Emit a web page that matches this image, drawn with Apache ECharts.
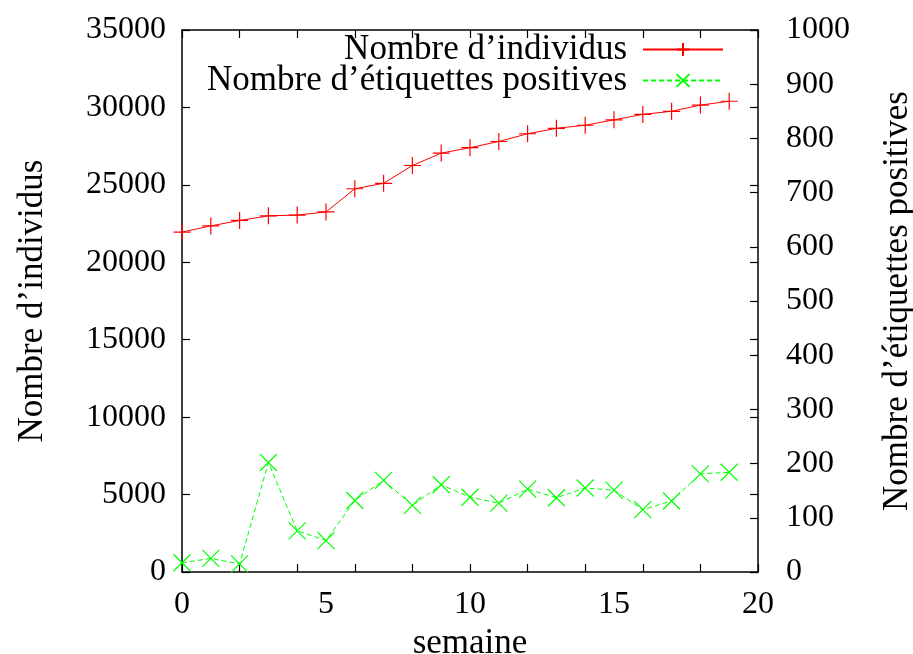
<!DOCTYPE html>
<html><head><meta charset="utf-8">
<script src="https://cdn.jsdelivr.net/npm/echarts@6/dist/echarts.min.js"></script>
<style>html,body{margin:0;padding:0;background:#fff}#c{width:913px;height:654px}</style>
</head><body><div id="c"></div>
<script>
const weeks = [0,1,2,3,4,5,6,7,8,9,10,11,12,13,14,15,16,17,18,19];
const individus = [21950,22350,22700,23000,23050,23250,24750,25100,26250,27050,27400,27800,28300,28650,28850,29200,29550,29750,30150,30400];
const etiquettes = [17,25,15,202,76,58,132,169,123,161,138,127,153,137,155,151,115,131,181,184];
const seriesNames = ['Nombre d\u2019individus', 'Nombre d\u2019\u00e9tiquettes positives'];
const xName = 'semaine';
const yLeftName = 'Nombre d\u2019individus';
const yRightName = 'Nombre d\u2019\u00e9tiquettes positives';

const FONT = 'Liberation Serif';
const num = {fontFamily: FONT, fontSize: 32, color: '#000'};
const txt = {fontFamily: FONT, fontSize: 35, color: '#000'};
const plus = 'path://M0,5L10,5M5,0L5,10';
const cross = 'path://M0,0L10,10M0,10L10,0';
const lineBlack = {show: true, onZero: false, lineStyle: {color: '#000', width: 1.5}};
const noLine = {show: false, onZero: false};
const tickIn = {show: true, inside: true, length: 8, lineStyle: {color: '#000', width: 1.2}};
const plain = v => String(v);
const G = {left: 182, right: 155, top: 30, bottom: 82, containLabel: false, outerBoundsMode: 'none'};

const chart = echarts.init(document.getElementById('c'), null, {renderer: 'canvas'});
chart.setOption({
  animation: false,
  backgroundColor: '#fff',
  textStyle: {fontFamily: FONT},
  grid: [Object.assign({}, G), Object.assign({}, G)],
  legend: [
    {data: [seriesNames[0]], right: 184, top: 27, orient: 'vertical', align: 'right', itemWidth: 80, itemHeight: 16,
     textStyle: Object.assign({padding: [0, 11, 0, 0]}, txt), selectedMode: false},
    {data: [seriesNames[1]], right: 184, top: 58, orient: 'vertical', align: 'right', itemWidth: 80, itemHeight: 16,
     textStyle: Object.assign({padding: [0, 11, 0, 0]}, txt), selectedMode: false}
  ],
  xAxis: [
    {gridIndex: 0, type: 'value', position: 'bottom', min: 0, max: 20, interval: 5,
     axisLine: lineBlack, axisTick: {show: false}, splitLine: {show: false},
     axisLabel: Object.assign({margin: 17, formatter: plain}, num),
     name: xName, nameLocation: 'middle', nameGap: 53, nameTextStyle: txt},
    {gridIndex: 0, type: 'value', position: 'top', min: 0, max: 20, interval: 2,
     axisLine: lineBlack, axisTick: tickIn, axisLabel: {show: false}, splitLine: {show: false}},
    {gridIndex: 1, type: 'value', position: 'bottom', min: 0, max: 20, interval: 2,
     axisLine: noLine, axisTick: tickIn, axisLabel: {show: false}, splitLine: {show: false}}
  ],
  yAxis: [
    {gridIndex: 0, type: 'value', position: 'left', min: 0, max: 35000, interval: 5000,
     axisLine: lineBlack, axisTick: tickIn,
     splitLine: {show: false}, axisLabel: Object.assign({margin: 16, formatter: plain}, num),
     name: yLeftName, nameLocation: 'middle', nameRotate: 90, nameGap: 132, nameTextStyle: txt},
    {gridIndex: 0, type: 'value', position: 'right', min: 0, max: 1000, interval: 100,
     axisLine: lineBlack, axisTick: tickIn,
     splitLine: {show: false}, axisLabel: Object.assign({margin: 28, formatter: plain}, num),
     name: yRightName, nameLocation: 'middle', nameRotate: 90, nameGap: 122, nameTextStyle: txt},
    {gridIndex: 1, type: 'value', position: 'right', min: 0, max: 35000, interval: 5000,
     axisLine: noLine, axisTick: tickIn, splitLine: {show: false}, axisLabel: {show: false}}
  ],
  series: [
    {name: seriesNames[0], type: 'line', xAxisIndex: 0, yAxisIndex: 0,
     data: weeks.map((w, i) => [w, individus[i]]),
     symbol: plus, symbolSize: 17, showAllSymbol: true,
     lineStyle: {color: '#ff0000', width: 1},
     itemStyle: {color: 'none', borderColor: '#ff0000', borderWidth: 1.2}},
    {name: seriesNames[1], type: 'line', xAxisIndex: 0, yAxisIndex: 1,
     data: weeks.map((w, i) => [w, etiquettes[i]]),
     symbol: cross, symbolSize: 17, showAllSymbol: true,
     lineStyle: {color: '#00ff00', width: 1, type: [5, 3]},
     itemStyle: {color: 'none', borderColor: '#00ff00', borderWidth: 1.2}}
  ]
});
</script></body></html>
